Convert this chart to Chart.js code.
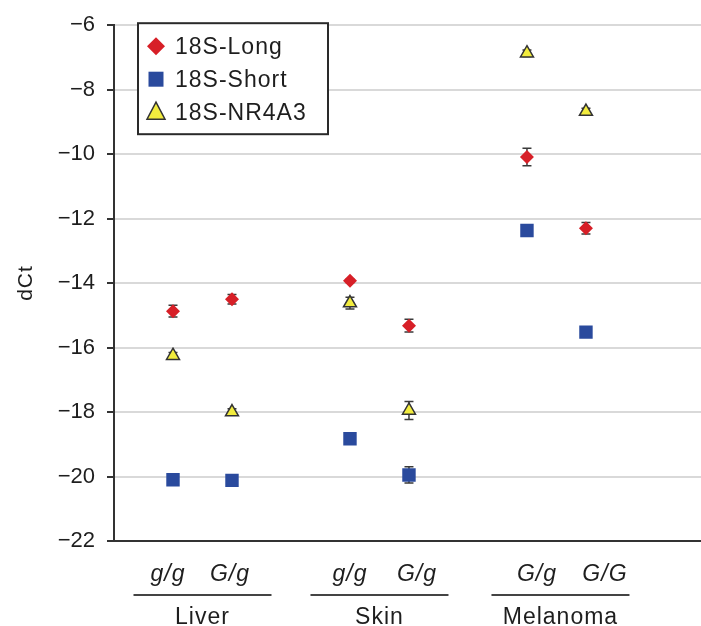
<!DOCTYPE html>
<html>
<head>
<meta charset="utf-8">
<script src="https://cdn.jsdelivr.net/npm/chart.js@4"></script>
<style>
  html, body { margin: 0; padding: 0; background: #fff; overflow: hidden; }
  canvas { display: block; }
</style>
</head>
<body>
<canvas id="grafico" width="701" height="626"></canvas>
<script>
// posições no eixo x (unidades do eixo) e rótulos
const posicoes = [1, 2, 4, 5, 7, 8];
const genotipos = ['g/g', 'G/g', 'g/g', 'G/g', 'G/g', 'G/G'];
const tecidos = ['Liver', 'Skin', 'Melanoma'];
const yTicks = [-6, -8, -10, -12, -14, -16, -18, -20, -22];

// valores dCt
const longo = [-14.87, -14.5, -13.93, -15.32, -10.09, -12.3];
const longoErr = [0.18, 0.15, 0.05, 0.2, 0.27, 0.18];
const curto = [-20.1, -20.12, -18.83, -19.95, -12.37, -15.52];
const curtoErr = [0.05, 0.05, 0.05, 0.25, 0.05, 0.05];
const nr4a3 = [-16.25, -18.0, -14.62, -17.95, -6.87, -8.68];
const nr4a3Err = [0.1, 0.1, 0.18, 0.28, 0.1, 0.1];

const vermelho = '#d71f27';
const azul = '#2a4a9d';
const amarelo = '#f2ec3e';
const fonte = '"Liberation Sans", Arial, Helvetica, sans-serif';

function pontos(valores) {
    return valores.map((v, i) => ({ x: posicoes[i], y: v }));
}

// barras de erro desenhadas antes dos marcadores
const barrasErro = {
    id: 'barrasErro',
    beforeDatasetsDraw(chart) {
        const ctx = chart.ctx;
        const y = chart.scales.y;
        ctx.save();
        ctx.strokeStyle = '#3a3a3a';
        ctx.lineWidth = 1.5;
        chart.data.datasets.forEach((ds, di) => {
            const meta = chart.getDatasetMeta(di);
            meta.data.forEach((el, i) => {
                const e = ds.erros[i];
                const yTop = y.getPixelForValue(ds.data[i].y + e);
                const yBot = y.getPixelForValue(ds.data[i].y - e);
                ctx.beginPath();
                ctx.moveTo(el.x, yTop); ctx.lineTo(el.x, yBot);
                ctx.moveTo(el.x - 4.5, yTop); ctx.lineTo(el.x + 4.5, yTop);
                ctx.moveTo(el.x - 4.5, yBot); ctx.lineTo(el.x + 4.5, yBot);
                ctx.stroke();
            });
        });
        ctx.restore();
    }
};

// rótulos de genótipo, linhas de grupo, título do eixo y e legenda
const decoracao = {
    id: 'decoracao',
    afterDraw(chart) {
        const ctx = chart.ctx;
        const x = chart.scales.x;
        const area = chart.chartArea;
        ctx.save();
        ctx.fillStyle = '#1e1e1e';
        ctx.textAlign = 'center';
        ctx.textBaseline = 'alphabetic';
        ctx.letterSpacing = '1px';

        const ajuste = [-5, -2, 0, 8, 10, 19];
        ctx.font = 'italic 23px ' + fonte;
        genotipos.forEach((g, i) => {
            ctx.fillText(g, x.getPixelForValue(posicoes[i]) + ajuste[i], area.bottom + 40);
        });

        ctx.font = '23px ' + fonte;
        ctx.strokeStyle = '#444';
        ctx.lineWidth = 2;
        tecidos.forEach((t, k) => {
            const cx = (x.getPixelForValue(posicoes[2 * k]) + x.getPixelForValue(posicoes[2 * k + 1])) / 2 + (k === 2 ? 4 : 0);
            ctx.beginPath();
            ctx.moveTo(cx - 69, area.bottom + 54);
            ctx.lineTo(cx + 69, area.bottom + 54);
            ctx.stroke();
            ctx.fillText(t, cx, area.bottom + 83);
        });

        // título do eixo y
        ctx.save();
        ctx.translate(26, 283);
        ctx.rotate(-Math.PI / 2);
        ctx.font = '21px ' + fonte;
        ctx.textBaseline = 'middle';
        ctx.fillText('dCt', 0, 0);
        ctx.restore();

        // legenda
        const lx = area.left + 24, ly = area.top - 2;
        ctx.fillStyle = '#fff';
        ctx.fillRect(lx, ly, 190, 111);
        ctx.strokeStyle = '#2a2a2a';
        ctx.lineWidth = 2;
        ctx.strokeRect(lx, ly, 190, 111);
        ctx.font = '23px ' + fonte;
        ctx.textAlign = 'left';
        ctx.textBaseline = 'middle';
        chart.data.datasets.forEach((ds, di) => {
            const cy = ly + 23 + di * 33;
            const mx = lx + 18;
            ctx.fillStyle = ds.backgroundColor;
            ctx.strokeStyle = ds.borderColor;
            ctx.lineWidth = 1.5;
            ctx.beginPath();
            if (ds.pointStyle === 'rectRot') {
                ctx.moveTo(mx, cy - 9); ctx.lineTo(mx + 9, cy); ctx.lineTo(mx, cy + 9); ctx.lineTo(mx - 9, cy);
                ctx.closePath(); ctx.fill();
            } else if (ds.pointStyle === 'rect') {
                ctx.rect(mx - 7.5, cy - 7.5, 15, 15); ctx.fill();
            } else {
                ctx.moveTo(mx, cy - 10); ctx.lineTo(mx + 9, cy + 7); ctx.lineTo(mx - 9, cy + 7);
                ctx.closePath(); ctx.fill(); ctx.stroke();
            }
            ctx.fillStyle = '#1e1e1e';
            ctx.fillText(ds.label, lx + 37, cy + 1);
        });
        ctx.restore();
    }
};

const ctx = document.getElementById('grafico').getContext('2d');
const grafico = new Chart(ctx, {
    type: 'scatter',
    data: {
        datasets: [
            {
                label: '18S-Long',
                data: pontos(longo),
                erros: longoErr,
                pointStyle: 'rectRot',
                pointRadius: 7,
                backgroundColor: vermelho,
                borderColor: vermelho,
                borderWidth: 0
            },
            {
                label: '18S-Short',
                data: pontos(curto),
                erros: curtoErr,
                pointStyle: 'rect',
                pointRadius: 9.5,
                backgroundColor: azul,
                borderColor: azul,
                borderWidth: 0
            },
            {
                label: '18S-NR4A3',
                data: pontos(nr4a3),
                erros: nr4a3Err,
                pointStyle: 'triangle',
                pointRadius: 7.5,
                backgroundColor: amarelo,
                borderColor: '#333',
                borderWidth: 1.5
            }
        ]
    },
    options: {
        responsive: false,
        animation: false,
        layout: { autoPadding: false, padding: { top: 25, right: 0, bottom: 0, left: 0 } },
        plugins: {
            legend: { display: false },
            tooltip: { enabled: false }
        },
        scales: {
            x: {
                type: 'linear',
                min: 0,
                max: 9.95,
                ticks: { display: false },
                grid: { display: false },
                border: { color: '#333', width: 2 },
                afterFit(scale) { scale.height = 85; }
            },
            y: {
                min: -22,
                max: -6,
                afterBuildTicks(scale) { scale.ticks = yTicks.map(v => ({ value: v })); },
                ticks: {
                    color: '#1e1e1e',
                    font: { family: fonte, size: 22 },
                    padding: 12,
                    callback: v => String(v).replace('-', '\u2212')
                },
                grid: {
                    color: '#d9d9d9',
                    lineWidth: 2,
                    tickColor: '#333',
                    tickLength: 7,
                    tickWidth: 2
                },
                border: { color: '#333', width: 2 },
                afterFit(scale) { scale.width = 114; }
            }
        }
    },
    plugins: [barrasErro, decoracao]
});
</script>
</body>
</html>
